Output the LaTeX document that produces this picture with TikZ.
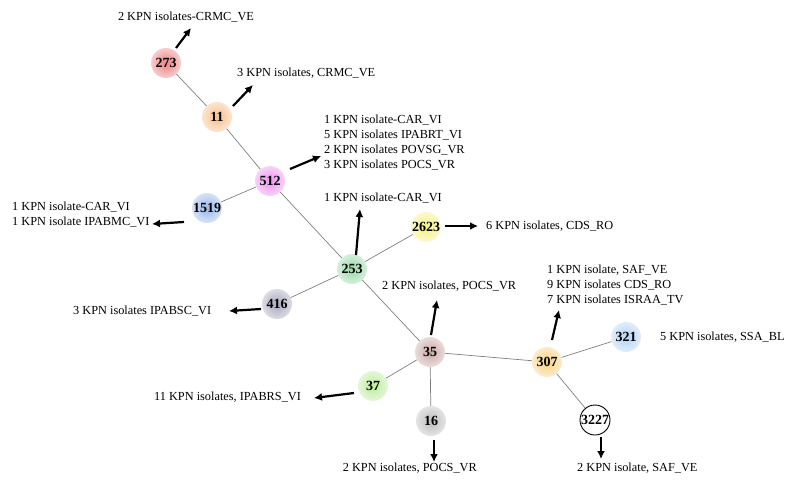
\documentclass[tikz,border=0pt]{standalone}
\usepackage{fontspec}
\setmainfont{Liberation Serif}
\usetikzlibrary{arrows.meta}
\definecolor{c273}{HTML}{EE8080}
\definecolor{c11}{HTML}{F7BE8A}
\definecolor{c512}{HTML}{EE90EE}
\definecolor{c1519}{HTML}{98B8EA}
\definecolor{c253}{HTML}{98D8A8}
\definecolor{c2623}{HTML}{F6F080}
\definecolor{c416}{HTML}{A8A8BC}
\definecolor{c35}{HTML}{C8A8A4}
\definecolor{c37}{HTML}{BCEC9C}
\definecolor{c16}{HTML}{BCBCBC}
\definecolor{c307}{HTML}{F6D080}
\definecolor{c321}{HTML}{B4D2F4}
\tikzset{
  st/.style={circle, minimum size=30pt, inner sep=0pt, font=\bfseries\fontsize{14}{14}\selectfont},
  sh/.style={shading=radial, inner color=#1, outer color=#1!40!white},
  lbl/.style={font=\fontsize{12.3}{15}\selectfont, inner sep=0pt, align=left},
  edge/.style={draw=gray, line width=0.7pt},
  arr/.style={line width=2.2pt, -{Latex[length=8pt,width=8pt]}}
}
\begin{document}
\begin{tikzpicture}[x=1pt,y=-1pt]
\useasboundingbox (0,0) rectangle (800,487);
% nodes
\node[st,sh=c273] (n273) at (166,63) {273};
\node[st,sh=c11] (n11) at (217,117) {11};
\node[st,sh=c512] (n512) at (270,181) {512};
\node[st,sh=c1519] (n1519) at (207,208) {1519};
\node[st,sh=c253] (n253) at (352,269) {253};
\node[st,sh=c2623] (n2623) at (426,227) {2623};
\node[st,sh=c416] (n416) at (277,304) {416};
\node[st,sh=c35] (n35) at (430,352) {35};
\node[st,sh=c37] (n37) at (373,386) {37};
\node[st,sh=c16] (n16) at (431,421) {16};
\node[st,sh=c307] (n307) at (547,362) {307};
\node[st,sh=c321] (n321) at (626,337) {321};
\node[st,draw=black,line width=0.9pt,fill=white] (n3227) at (595,420) {3227};
% edges
\draw[edge] (n273) -- (n11);
\draw[edge] (n11) -- (n512);
\draw[edge] (n512) -- (n1519);
\draw[edge] (n512) -- (n253);
\draw[edge] (n253) -- (n2623);
\draw[edge] (n253) -- (n416);
\draw[edge] (n253) -- (n35);
\draw[edge] (n35) -- (n37);
\draw[edge] (n35) -- (n16);
\draw[edge] (n35) -- (n307);
\draw[edge] (n307) -- (n321);
\draw[edge] (n307) -- (n3227);
% labels
\node[lbl] (l273) at (186,17) {2 KPN isolates-CRMC\_VE};
\node[lbl,anchor=west] (l11) at (237,73) {3 KPN isolates, CRMC\_VE};
\node[lbl,anchor=west] (l512) at (324,143) {1 KPN isolate-CAR\_VI\\5 KPN isolates IPABRT\_VI\\2 KPN isolates POVSG\_VR\\3 KPN isolates POCS\_VR};
\node[lbl,anchor=west] (l253) at (324,198) {1 KPN isolate-CAR\_VI};
\node[lbl,anchor=west] (l1519) at (12,215) {1 KPN isolate-CAR\_VI\\1 KPN isolate IPABMC\_VI};
\node[lbl,anchor=west] (l2623) at (486,226) {6 KPN isolates, CDS\_RO};
\node[lbl,anchor=west] (l416) at (73,311) {3 KPN isolates IPABSC\_VI};
\node[lbl,anchor=west] (l35) at (382,286) {2 KPN isolates, POCS\_VR};
\node[lbl,anchor=west] (l37) at (154,397) {11 KPN isolates, IPABRS\_VI};
\node[lbl,anchor=east] (l16) at (477,468) {2 KPN isolates, POCS\_VR};
\node[lbl,anchor=west] (l307) at (547,285) {1 KPN isolate, SAF\_VE\\9 KPN isolates CDS\_RO\\7 KPN isolates ISRAA\_TV};
\node[lbl,anchor=west] (l321) at (660,337) {5 KPN isolates, SSA\_BL};
\node[lbl,anchor=west] (l3227) at (577,468) {2 KPN isolate, SAF\_VE};
% arrows
\coordinate (a273s) at (176,48); \coordinate (a273e) at (191,28);
\coordinate (a11s) at (233,106); \coordinate (a11e) at (253,85);
\coordinate (a512s) at (290,169); \coordinate (a512e) at (321,156);
\coordinate (a1519s) at (184,222); \coordinate (a1519e) at (152,224);
\coordinate (a253s) at (356,255); \coordinate (a253e) at (360,209);
\coordinate (a2623s) at (445,226); \coordinate (a2623e) at (478,226);
\coordinate (a416s) at (261,309); \coordinate (a416e) at (229,311);
\coordinate (a35s) at (431,335); \coordinate (a35e) at (437,300);
\coordinate (a37s) at (354,393); \coordinate (a37e) at (314,398);
\coordinate (a16s) at (434,440); \coordinate (a16e) at (434,462);
\coordinate (a307s) at (552,340); \coordinate (a307e) at (559,310);
\coordinate (a3227s) at (601,437); \coordinate (a3227e) at (601,459);
\foreach \n in {273,11,512,1519,253,2623,416,35,37,16,307,3227}
  \draw[arr] (a\n s) -- (a\n e);
\end{tikzpicture}
\end{document}
